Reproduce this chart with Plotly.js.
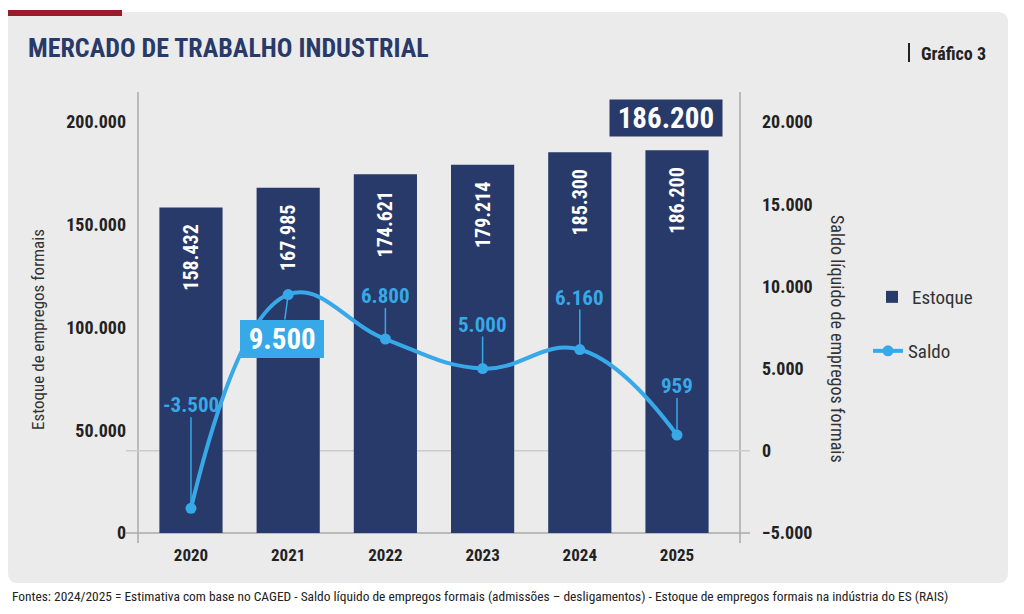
<!DOCTYPE html>
<html>
<head>
<meta charset="utf-8">
<script src="https://cdn.plot.ly/plotly-3.0.1.min.js"></script>
<style>html,body{margin:0;padding:0;background:#fff;}#chart{width:1024px;height:614px;}</style>
</head>
<body>
<div id="chart"></div>
<script>
const years = ['2020', '2021', '2022', '2023', '2024', '2025'];
const estoque = [158432, 167985, 174621, 179214, 185300, 186200];
const saldo = [-3500, 9500, 6800, 5000, 6160, 959];
const saldoLabels = ['-3.500', '9.500', '6.800', '5.000', '6.160', '959'];
const estoqueLabels = ['158.432', '167.985', '174.621', '179.214', '185.300', '186.200'];
const leftTicks = [0, 50000, 100000, 150000, 200000];
const rightTicks = [-5000, 0, 5000, 10000, 15000, 20000];

const W = 1024, H = 614;
const px = x => x / W;
const py = y => 1 - y / H;
const FONT = 'Roboto Condensed, Liberation Sans Narrow, Arial Narrow, DejaVu Sans Condensed, Roboto, sans-serif';
const NAVY = '#283a69';
const BLUE = '#37a8e8';
const PAD = '\u00a0\u00a0\u00a0';
const SP = '\u00a0';

const traces = [
  {
    type: 'bar', name: 'Estoque', x: years, y: estoque,
    text: estoqueLabels.map(t => t + PAD), textposition: 'inside', insidetextanchor: 'end', textangle: -90,
    textfont: {family: FONT, size: 20, color: '#ffffff', weight: 700},
    marker: {color: NAVY}, width: 0.65, yaxis: 'y', legend: 'legend', hoverinfo: 'skip'
  },
  {
    type: 'scatter', mode: 'lines+markers', name: 'Saldo', x: years, y: saldo,
    line: {color: BLUE, width: 4, shape: 'spline', smoothing: 1.2},
    marker: {color: BLUE, size: 11}, yaxis: 'y2', legend: 'legend2', cliponaxis: false
  }
];

// annotations for saldo values
const offs = [[0, -103], [-6, 44], [0, -43], [0, -44], [0, -52], [0, -49]];
const annotations = saldo.map((v, i) => {
  const big = i === 1;
  return {
    x: i, y: v, xref: 'x', yref: 'y2',
    text: big ? SP + saldoLabels[i] + SP : saldoLabels[i], showarrow: true, arrowhead: 0, arrowwidth: 1.5, arrowcolor: BLUE,
    ax: offs[i][0], ay: offs[i][1], standoff: 0,
    font: {family: FONT, size: big ? 29 : 21, color: big ? '#ffffff' : BLUE, weight: 700},
    bgcolor: big ? BLUE : 'rgba(0,0,0,0)', borderpad: big ? 2 : 0, borderwidth: 0
  };
});
annotations.push({
  x: 5, y: estoque[5], xref: 'x', yref: 'y', showarrow: false,
  text: SP + estoqueLabels[5] + SP, xshift: -11, yshift: 32,
  font: {family: FONT, size: 29, color: '#ffffff', weight: 700}, bgcolor: NAVY, borderpad: 1
});
// titles and texts
annotations.push(
  {xref: 'paper', yref: 'paper', x: px(26), y: py(48), xanchor: 'left', yanchor: 'middle', showarrow: false,
   text: 'MERCADO DE TRABALHO INDUSTRIAL', font: {family: FONT, size: 26, color: NAVY, weight: 700}},
  {xref: 'paper', yref: 'paper', x: px(988), y: py(53), xanchor: 'right', yanchor: 'middle', showarrow: false,
   text: 'Gráfico 3', font: {family: FONT, size: 18, color: '#222', weight: 700}},
  {xref: 'paper', yref: 'paper', x: px(10), y: py(596), xanchor: 'left', yanchor: 'middle', showarrow: false,
   text: 'Fontes: 2024/2025 = Estimativa com base no CAGED - Saldo líquido de empregos formais (admissões – desligamentos) - Estoque de empregos formais na indústria do ES (RAIS)',
   font: {family: FONT, size: 13.4, color: '#222'}},
  {xref: 'paper', yref: 'paper', x: px(38), y: py(330), xanchor: 'center', yanchor: 'middle', showarrow: false, textangle: -90,
   text: 'Estoque de empregos formais', font: {family: FONT, size: 17, color: '#333'}},
  {xref: 'paper', yref: 'paper', x: px(838), y: py(339), xanchor: 'center', yanchor: 'middle', showarrow: false, textangle: 90,
   text: 'Saldo líquido de empregos formais', font: {family: FONT, size: 18, color: '#333'}}
);

const shapes = [
  {type: 'path', xref: 'paper', yref: 'paper', layer: 'below',
   path: `M ${px(8)} ${py(12)} L ${px(998)} ${py(12)} Q ${px(1008)} ${py(12)} ${px(1008)} ${py(22)} L ${px(1008)} ${py(573)} Q ${px(1008)} ${py(583)} ${px(998)} ${py(583)} L ${px(18)} ${py(583)} Q ${px(8)} ${py(583)} ${px(8)} ${py(573)} Z`,
   fillcolor: '#ebebeb', line: {width: 0}},
  {type: 'rect', xref: 'paper', yref: 'paper', x0: px(8), x1: px(122), y0: py(10), y1: py(16), fillcolor: '#9b1b2a', line: {width: 0}},
  {type: 'line', xref: 'paper', yref: 'paper', x0: px(909), x1: px(909), y0: py(43), y1: py(62), line: {color: '#222', width: 2}},
  {type: 'line', xref: 'paper', yref: 'paper', x0: px(138), x1: px(138), y0: py(92), y1: py(543), line: {color: '#aaaaaa', width: 1.5}, layer: 'below'},
  {type: 'line', xref: 'paper', yref: 'paper', x0: px(740), x1: px(740), y0: py(92), y1: py(543), line: {color: '#aaaaaa', width: 1.5}, layer: 'below'},
  {type: 'line', xref: 'paper', yref: 'paper', x0: px(126), x1: px(750), y0: py(533), y1: py(533), line: {color: '#aaaaaa', width: 1.5}, layer: 'below'},
  {type: 'line', xref: 'paper', yref: 'y2', x0: px(126), x1: px(750), y0: 0, y1: 0, line: {color: '#cccccc', width: 1.5}, layer: 'below'}
];

const tickFont = {family: FONT, size: 18, color: '#222', weight: 700};
const layout = {
  width: W, height: H, margin: {l: 0, r: 0, t: 0, b: 0},
  paper_bgcolor: '#ffffff', plot_bgcolor: 'rgba(0,0,0,0)',
  separators: ',.',
  showlegend: true,
  xaxis: {domain: [px(138), px(740)], type: 'category', range: [-0.545, 5.648], showgrid: false, showline: false, zeroline: false,
          ticks: '', tickfont: {family: FONT, size: 17, color: '#222', weight: 700}, ticklabelstandoff: 10},
  yaxis: {domain: [py(533), py(122)], range: [0, 200000], tickvals: leftTicks, tickformat: ',.0f', showgrid: false, zeroline: false, showline: false,
          ticks: '', tickfont: tickFont, ticklabelstandoff: 11},
  yaxis2: {domain: [py(533), py(122)], overlaying: 'y', side: 'right', range: [-5000, 20000], tickvals: rightTicks, tickformat: ',.0f',
           showgrid: false, zeroline: false, showline: false, ticks: '', tickfont: tickFont, ticklabelstandoff: 21},
  legend: {x: px(872), y: py(297), xanchor: 'left', yanchor: 'middle', bgcolor: 'rgba(0,0,0,0)', font: {family: FONT, size: 19, color: '#333'}},
  legend2: {x: px(868), y: py(351), xanchor: 'left', yanchor: 'middle', bgcolor: 'rgba(0,0,0,0)', font: {family: FONT, size: 19, color: '#333'}},
  annotations: annotations,
  shapes: shapes
};

Plotly.newPlot('chart', traces, layout, {displayModeBar: false, staticPlot: true});
</script>
</body>
</html>
